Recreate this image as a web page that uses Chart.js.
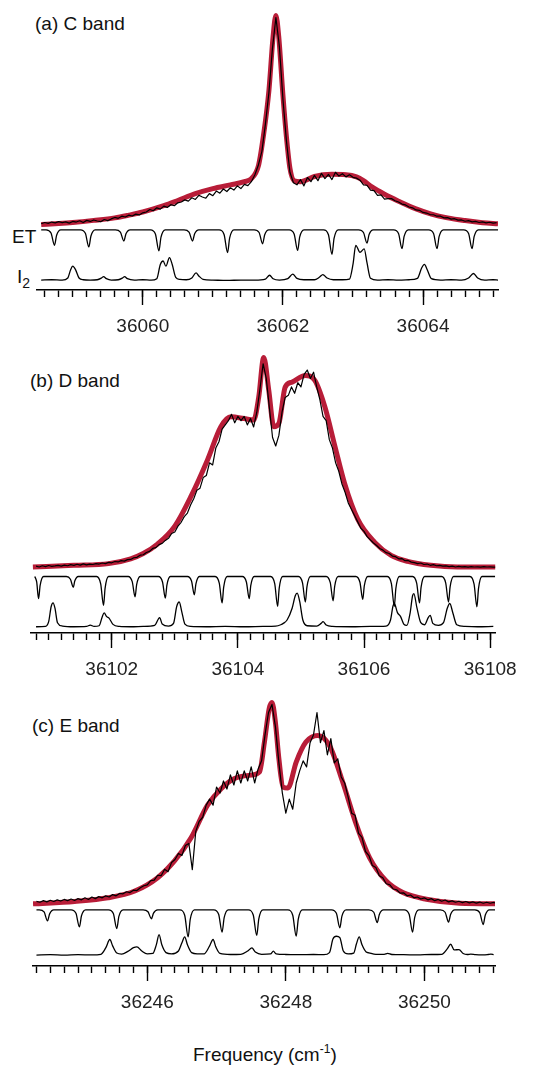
<!DOCTYPE html>
<html>
<head>
<meta charset="utf-8">
<script src="https://cdn.jsdelivr.net/npm/chart.js@4.4.1/dist/chart.umd.min.js"></script>
<style>
   body { margin: 0; background: #fff; }
   #wrap { position: relative; width: 537px; height: 1066px; overflow: hidden;
           font-family: "Liberation Sans", Arial, sans-serif; color: #111; }
   #wrap canvas { position: absolute; left: 0; }
   .lbl { position: absolute; font-size: 19px; line-height: 19px; white-space: nowrap; }
   .lbl sub { font-size: 14px; vertical-align: -5px; line-height: 0; }
   .lbl sup { font-size: 12px; vertical-align: 8px; line-height: 0; }
</style>
</head>
<body>
<div id="wrap">
   <div class="lbl" style="left:35px; top:14px;">(a) C band</div>
   <div class="lbl" style="left:12px; top:227px;">ET</div>
   <div class="lbl" style="left:17px; top:267px;">I<sub>2</sub></div>
   <div class="lbl" style="left:30px; top:371px;">(b) D band</div>
   <div class="lbl" style="left:32px; top:716px;">(c) E band</div>
   <div class="lbl" style="left:193px; top:1045px;">Frequency (cm<sup>-1</sup>)</div>
</div>
<script>
// -----------------------------------------------------------------------------
// Values. Wavenumbers in cm-1, intensities normalised:
//   spectrum 0 = baseline, 1 = top of the narrow peak
//   ET (etalon) 1 = flat transmission, 0 = deepest dip
//   I2 0 = baseline, 1 = tallest line
// Observed traces are sampled every 0.05 cm-1 from the given start.
// -----------------------------------------------------------------------------

// (a) C band
var cRange = [36058.49, 36065.07];
var cObsStart = 36058.55, cObsStep = 0.05;
var cObs = [
   0.004, 0.010, 0.006, 0.012, 0.008, 0.014, 0.009, 0.013, 0.007, 0.015,
   0.012, 0.018, 0.010, 0.020, 0.015, 0.022, 0.017, 0.014, 0.024, 0.019,
   0.027, 0.034, 0.030, 0.040, 0.036, 0.045, 0.041, 0.050, 0.046, 0.056,
   0.060, 0.072, 0.066, 0.080, 0.074, 0.088, 0.082, 0.095, 0.090, 0.104,
   0.108, 0.118, 0.112, 0.128, 0.120, 0.140, 0.132, 0.126, 0.148, 0.138,
   0.160, 0.150, 0.170, 0.158, 0.176, 0.165, 0.185, 0.172, 0.192, 0.186,
   0.205, 0.238, 0.285, 0.350, 0.480, 0.630, 0.840, 0.990, 0.850, 0.600,
   0.400, 0.250, 0.200, 0.190, 0.215, 0.185, 0.225, 0.205, 0.235, 0.210,
   0.245, 0.220, 0.240, 0.215, 0.250, 0.232, 0.243, 0.228, 0.238, 0.226,
   0.222, 0.212, 0.190, 0.188, 0.165, 0.162, 0.140, 0.142, 0.122, 0.124,
   0.124, 0.114, 0.108, 0.098, 0.094, 0.084, 0.080, 0.070, 0.068, 0.058,
   0.055, 0.048, 0.047, 0.040, 0.040, 0.032, 0.033, 0.026, 0.028, 0.021,
   0.022, 0.016, 0.019, 0.013, 0.015, 0.010, 0.013, 0.008, 0.011, 0.007,
   0.009
];
var cFit = [
   [36058.55, 0.000], [36058.80, 0.005], [36059.00, 0.010], [36059.30, 0.020],
   [36059.60, 0.032], [36059.80, 0.045], [36060.00, 0.060], [36060.30, 0.090],
   [36060.50, 0.115], [36060.75, 0.148], [36061.00, 0.172], [36061.25, 0.190],
   [36061.45, 0.205], [36061.55, 0.220], [36061.65, 0.280], [36061.72, 0.420],
   [36061.80, 0.640], [36061.86, 0.900], [36061.90, 1.000], [36061.94, 0.900],
   [36062.00, 0.620], [36062.05, 0.420], [36062.10, 0.270], [36062.16, 0.210],
   [36062.25, 0.205], [36062.45, 0.230], [36062.70, 0.240], [36062.90, 0.238],
   [36063.05, 0.228], [36063.15, 0.210], [36063.27, 0.180], [36063.45, 0.145],
   [36063.65, 0.112], [36063.90, 0.075], [36064.12, 0.050], [36064.35, 0.032],
   [36064.60, 0.019], [36064.85, 0.009], [36065.07, 0.004]
];
var cET = [
   [36058.55, 1], [36058.62, 1], [36058.69, 0.87], [36058.74, 0.37], [36058.77, 0.78], [36058.83, 1],
   [36059.11, 1], [36059.18, 0.86], [36059.23, 0.30], [36059.26, 0.75], [36059.32, 1],
   [36059.61, 1], [36059.68, 0.91], [36059.73, 0.54], [36059.76, 0.84], [36059.82, 1],
   [36060.11, 1], [36060.18, 0.83], [36060.23, 0.14], [36060.26, 0.70], [36060.32, 1],
   [36060.59, 1], [36060.66, 0.91], [36060.71, 0.54], [36060.74, 0.84], [36060.80, 1],
   [36061.09, 1], [36061.16, 0.81], [36061.21, 0.07], [36061.24, 0.67], [36061.30, 1],
   [36061.59, 1], [36061.66, 0.89], [36061.71, 0.43], [36061.74, 0.80], [36061.80, 1],
   [36062.09, 1], [36062.16, 0.83], [36062.21, 0.16], [36062.24, 0.71], [36062.30, 1],
   [36062.58, 1], [36062.65, 0.80], [36062.70, 0.00], [36062.73, 0.65], [36062.79, 1],
   [36063.08, 1], [36063.15, 0.89], [36063.20, 0.46], [36063.23, 0.81], [36063.29, 1],
   [36063.58, 1], [36063.65, 0.85], [36063.70, 0.23], [36063.73, 0.73], [36063.79, 1],
   [36064.08, 1], [36064.15, 0.85], [36064.20, 0.23], [36064.23, 0.73], [36064.29, 1],
   [36064.58, 1], [36064.65, 0.85], [36064.70, 0.23], [36064.73, 0.73], [36064.79, 1],
   [36065.07, 1]
];
var cI2 = [
   [36058.55, 0.00], [36058.70, 0.01], [36058.85, 0.00], [36058.93, 0.06], [36058.97, 0.30],
   [36059.00, 0.40], [36059.04, 0.30], [36059.09, 0.06], [36059.15, 0.01], [36059.25, 0.00],
   [36059.35, 0.01], [36059.41, 0.06], [36059.44, 0.10], [36059.48, 0.04], [36059.55, 0.00],
   [36059.65, 0.01], [36059.71, 0.06], [36059.74, 0.10], [36059.78, 0.04], [36059.88, 0.00],
   [36060.00, 0.01], [36060.12, 0.00], [36060.20, 0.04], [36060.25, 0.45], [36060.29, 0.55],
   [36060.33, 0.40], [36060.38, 0.65], [36060.42, 0.45], [36060.47, 0.08], [36060.53, 0.02],
   [36060.62, 0.01], [36060.70, 0.06], [36060.76, 0.21], [36060.80, 0.12], [36060.86, 0.02],
   [36061.00, 0.00], [36061.20, -0.01], [36061.40, 0.00], [36061.60, 0.00], [36061.75, 0.03],
   [36061.81, 0.14], [36061.86, 0.04], [36061.95, 0.00], [36062.07, 0.04], [36062.14, 0.17],
   [36062.20, 0.05], [36062.30, 0.01], [36062.45, 0.01], [36062.52, 0.08], [36062.57, 0.16],
   [36062.63, 0.06], [36062.72, 0.01], [36062.85, 0.01], [36062.95, 0.03], [36063.00, 0.45],
   [36063.04, 1.00], [36063.10, 0.80], [36063.16, 0.90], [36063.20, 0.50], [36063.25, 0.05],
   [36063.35, 0.00], [36063.50, 0.01], [36063.65, 0.00], [36063.80, 0.01], [36063.92, 0.05],
   [36063.98, 0.35], [36064.02, 0.45], [36064.06, 0.30], [36064.12, 0.04], [36064.25, 0.00],
   [36064.40, 0.01], [36064.55, 0.00], [36064.65, 0.06], [36064.72, 0.19], [36064.78, 0.06],
   [36064.88, 0.00], [36065.00, 0.01], [36065.07, 0.00]
];

// (b) D band
var dRange = [36100.72, 36108.08];
var dObsStart = 36100.80, dObsStep = 0.05;
var dObs = [
   0.010, 0.006, 0.012, 0.008, 0.013, 0.009, 0.011, 0.014, 0.010, 0.015,
   0.012, 0.017, 0.014, 0.019, 0.015, 0.021, 0.016, 0.020, 0.018, 0.022,
   0.020, 0.025, 0.022, 0.028, 0.026, 0.032, 0.030, 0.036, 0.034, 0.041,
   0.042, 0.050, 0.052, 0.062, 0.064, 0.075, 0.080, 0.094, 0.098, 0.112,
   0.118, 0.132, 0.142, 0.165, 0.172, 0.200, 0.218, 0.245, 0.262, 0.300,
   0.330, 0.370, 0.380, 0.430, 0.440, 0.500, 0.490, 0.570, 0.600, 0.660,
   0.680, 0.700, 0.730, 0.690, 0.720, 0.700, 0.720, 0.680, 0.710, 0.670,
   0.740, 0.850, 0.970, 0.900, 0.760, 0.620, 0.580, 0.630, 0.740, 0.810,
   0.820, 0.860, 0.830, 0.880, 0.860, 0.920, 0.940, 0.900, 0.930, 0.860,
   0.800, 0.720, 0.700, 0.610, 0.570, 0.500, 0.460, 0.400, 0.360, 0.310,
   0.280, 0.250, 0.220, 0.190, 0.175, 0.150, 0.135, 0.120, 0.108, 0.094,
   0.086, 0.074, 0.070, 0.058, 0.055, 0.045, 0.046, 0.036, 0.037, 0.029,
   0.027, 0.022, 0.025, 0.018, 0.020, 0.014, 0.017, 0.012, 0.014, 0.010,
   0.011, 0.008, 0.010, 0.006, 0.009, 0.007, 0.008, 0.005, 0.008, 0.006,
   0.007, 0.005, 0.008, 0.006, 0.007, 0.005, 0.006
];
var dFit = [
   [36100.75, 0.006], [36101.40, 0.014], [36101.95, 0.022], [36102.30, 0.045],
   [36102.50, 0.070], [36102.73, 0.116], [36103.00, 0.200], [36103.26, 0.343],
   [36103.52, 0.515], [36103.73, 0.671], [36103.89, 0.718], [36104.10, 0.710],
   [36104.25, 0.703], [36104.33, 0.810], [36104.41, 1.000], [36104.49, 0.844],
   [36104.57, 0.671], [36104.65, 0.687], [36104.75, 0.859], [36104.86, 0.883],
   [36105.07, 0.914], [36105.22, 0.891], [36105.38, 0.765], [36105.54, 0.577],
   [36105.69, 0.405], [36105.90, 0.233], [36106.17, 0.123], [36106.43, 0.061],
   [36106.69, 0.033], [36107.06, 0.014], [36107.48, 0.006], [36108.10, 0.006]
];
var dET = [
   [36100.78, 1], [36100.81, 0.82], [36100.84, 0.27], [36100.865, 0.71], [36100.92, 1],
   [36101.28, 1], [36101.345, 0.91], [36101.39, 0.65], [36101.415, 0.86], [36101.47, 1],
   [36101.76, 1], [36101.825, 0.76], [36101.87, 0.05], [36101.895, 0.62], [36101.95, 1],
   [36102.26, 1], [36102.325, 0.83], [36102.37, 0.33], [36102.395, 0.73], [36102.45, 1],
   [36102.74, 1], [36102.805, 0.82], [36102.85, 0.29], [36102.875, 0.72], [36102.93, 1],
   [36103.20, 1], [36103.265, 0.85], [36103.31, 0.40], [36103.335, 0.76], [36103.39, 1],
   [36103.64, 1], [36103.705, 0.78], [36103.75, 0.13], [36103.775, 0.65], [36103.83, 1],
   [36104.07, 1], [36104.135, 0.82], [36104.18, 0.27], [36104.205, 0.71], [36104.26, 1],
   [36104.52, 1], [36104.585, 0.76], [36104.63, 0.02], [36104.655, 0.61], [36104.71, 1],
   [36104.96, 1], [36105.025, 0.79], [36105.07, 0.16], [36105.095, 0.66], [36105.15, 1],
   [36105.40, 1], [36105.465, 0.80], [36105.51, 0.20], [36105.535, 0.68], [36105.59, 1],
   [36105.87, 1], [36105.935, 0.81], [36105.98, 0.25], [36106.005, 0.70], [36106.06, 1],
   [36106.37, 1], [36106.435, 0.76], [36106.48, 0.02], [36106.505, 0.61], [36106.56, 1],
   [36106.77, 1], [36106.835, 0.78], [36106.88, 0.13], [36106.905, 0.65], [36106.96, 1],
   [36107.23, 1], [36107.295, 0.79], [36107.34, 0.16], [36107.365, 0.66], [36107.42, 1],
   [36107.68, 1], [36107.745, 0.75], [36107.79, 0.00], [36107.815, 0.60], [36107.87, 1],
   [36108.08, 1]
];
var dI2 = [
   [36100.80, 0.00], [36100.95, 0.01], [36101.00, 0.15], [36101.04, 0.60], [36101.07, 0.71],
   [36101.10, 0.55], [36101.14, 0.12], [36101.22, 0.02], [36101.40, 0.00], [36101.60, 0.01],
   [36101.66, 0.05], [36101.72, 0.01], [36101.80, 0.03], [36101.85, 0.30], [36101.88, 0.41],
   [36101.92, 0.30], [36101.96, 0.25], [36102.02, 0.07], [36102.12, 0.01], [36102.30, 0.00],
   [36102.50, 0.01], [36102.68, 0.04], [36102.76, 0.27], [36102.80, 0.08], [36102.90, 0.02],
   [36102.98, 0.10], [36103.03, 0.60], [36103.07, 0.735], [36103.11, 0.45], [36103.16, 0.08],
   [36103.25, 0.01], [36103.50, 0.00], [36103.80, 0.01], [36104.10, 0.00], [36104.40, 0.01],
   [36104.60, 0.02], [36104.68, 0.06], [36104.72, 0.10], [36104.78, 0.20], [36104.86, 0.55],
   [36104.91, 0.92], [36104.94, 1.00], [36104.98, 0.75], [36105.03, 0.20], [36105.10, 0.03],
   [36105.25, 0.02], [36105.32, 0.10], [36105.35, 0.15], [36105.40, 0.05], [36105.50, 0.01],
   [36105.80, 0.00], [36106.10, 0.01], [36106.35, 0.02], [36106.42, 0.20], [36106.46, 0.62],
   [36106.48, 0.69], [36106.53, 0.42], [36106.58, 0.30], [36106.63, 0.08], [36106.68, 0.04],
   [36106.73, 0.40], [36106.77, 0.92], [36106.79, 0.98], [36106.84, 0.55], [36106.90, 0.12],
   [36106.96, 0.06], [36107.02, 0.28], [36107.05, 0.34], [36107.09, 0.10], [36107.18, 0.04],
   [36107.26, 0.12], [36107.32, 0.55], [36107.36, 0.69], [36107.41, 0.40], [36107.47, 0.06],
   [36107.60, 0.01], [36107.80, 0.00], [36108.05, 0.01]
];

// (c) E band
var eRange = [36244.35, 36251.02];
var eObsStart = 36244.40, eObsStep = 0.05;
var eObs = [
   0.012, 0.008, 0.016, 0.010, 0.018, 0.012, 0.020, 0.014, 0.022, 0.016,
   0.024, 0.017, 0.026, 0.020, 0.030, 0.022, 0.034, 0.026, 0.036, 0.030,
   0.040, 0.034, 0.046, 0.040, 0.052, 0.050, 0.060, 0.056, 0.068, 0.066,
   0.080, 0.090, 0.094, 0.115, 0.118, 0.142, 0.140, 0.172, 0.160, 0.205,
   0.220, 0.250, 0.240, 0.290, 0.300, 0.170, 0.360, 0.410, 0.430, 0.490,
   0.520, 0.490, 0.580, 0.550, 0.610, 0.570, 0.640, 0.590, 0.660, 0.600,
   0.660, 0.610, 0.680, 0.600, 0.670, 0.710, 0.840, 0.950, 0.990, 0.880,
   0.700, 0.550, 0.450, 0.520, 0.470, 0.600, 0.660, 0.710, 0.680, 0.800,
   0.840, 0.950, 0.800, 0.860, 0.740, 0.820, 0.700, 0.720, 0.630, 0.600,
   0.530, 0.450, 0.440, 0.350, 0.330, 0.260, 0.240, 0.190, 0.180, 0.140,
   0.130, 0.100, 0.095, 0.074, 0.070, 0.053, 0.055, 0.040, 0.044, 0.030,
   0.034, 0.024, 0.030, 0.020, 0.026, 0.016, 0.022, 0.013, 0.019, 0.010,
   0.015, 0.008, 0.013, 0.006, 0.012, 0.005, 0.010, 0.004, 0.009, 0.003,
   0.008, 0.003, 0.007, 0.002, 0.006
];
var eFit = [
   [36244.35, 0.000], [36244.95, 0.012], [36245.43, 0.030], [36245.82, 0.064],
   [36246.15, 0.130], [36246.39, 0.212], [36246.63, 0.327], [36246.87, 0.490],
   [36247.07, 0.573], [36247.26, 0.622], [36247.50, 0.639], [36247.62, 0.655],
   [36247.69, 0.800], [36247.76, 0.970], [36247.80, 1.000], [36247.85, 0.900],
   [36247.90, 0.720], [36247.96, 0.580], [36248.03, 0.575], [36248.15, 0.704],
   [36248.29, 0.803], [36248.46, 0.836], [36248.63, 0.786], [36248.82, 0.606],
   [36249.02, 0.392], [36249.21, 0.228], [36249.45, 0.113], [36249.69, 0.056],
   [36250.03, 0.023], [36250.51, 0.003], [36251.10, 0.000]
];
var eET = [
   [36244.40, 1], [36244.44, 1], [36244.51, 0.92], [36244.56, 0.59], [36244.59, 0.85], [36244.65, 1],
   [36244.90, 1], [36244.97, 0.87], [36245.02, 0.37], [36245.05, 0.78], [36245.11, 1],
   [36245.44, 1], [36245.51, 0.86], [36245.56, 0.31], [36245.59, 0.76], [36245.65, 1],
   [36245.94, 1], [36246.01, 0.93], [36246.06, 0.67], [36246.09, 0.88], [36246.15, 1],
   [36246.47, 1], [36246.54, 0.80], [36246.59, 0.00], [36246.62, 0.65], [36246.68, 1],
   [36246.96, 1], [36247.03, 0.84], [36247.08, 0.18], [36247.11, 0.71], [36247.17, 1],
   [36247.46, 1], [36247.53, 0.81], [36247.58, 0.06], [36247.61, 0.67], [36247.67, 1],
   [36248.03, 1], [36248.10, 0.80], [36248.15, 0.03], [36248.18, 0.66], [36248.24, 1],
   [36248.66, 1], [36248.73, 0.87], [36248.78, 0.34], [36248.81, 0.77], [36248.87, 1],
   [36249.20, 1], [36249.27, 0.91], [36249.32, 0.53], [36249.35, 0.83], [36249.41, 1],
   [36249.71, 1], [36249.78, 0.84], [36249.83, 0.18], [36249.86, 0.71], [36249.92, 1],
   [36250.23, 1], [36250.30, 0.91], [36250.35, 0.55], [36250.38, 0.84], [36250.44, 1],
   [36250.73, 1], [36250.80, 0.89], [36250.85, 0.46], [36250.88, 0.81], [36250.94, 1],
   [36251.02, 1]
];
var eI2 = [
   [36244.40, 0.00], [36244.60, 0.02], [36244.80, 0.00], [36245.00, 0.02], [36245.20, 0.01],
   [36245.33, 0.04], [36245.40, 0.35], [36245.46, 0.76], [36245.50, 0.45], [36245.56, 0.10],
   [36245.63, 0.05], [36245.72, 0.18], [36245.80, 0.36], [36245.85, 0.40], [36245.92, 0.20],
   [36246.00, 0.06], [36246.08, 0.08], [36246.13, 0.50], [36246.17, 1.00], [36246.21, 0.50],
   [36246.27, 0.12], [36246.35, 0.06], [36246.45, 0.20], [36246.50, 0.60], [36246.54, 0.89],
   [36246.58, 0.50], [36246.64, 0.12], [36246.72, 0.06], [36246.82, 0.06], [36246.90, 0.45],
   [36246.95, 0.76], [36246.99, 0.40], [36247.05, 0.08], [36247.20, 0.03], [36247.35, 0.04],
   [36247.45, 0.20], [36247.51, 0.35], [36247.56, 0.15], [36247.65, 0.04], [36247.78, 0.06],
   [36247.82, 0.19], [36247.86, 0.06], [36248.00, 0.03], [36248.20, 0.02], [36248.40, 0.03],
   [36248.55, 0.02], [36248.63, 0.12], [36248.68, 0.78], [36248.73, 0.92], [36248.78, 0.85],
   [36248.83, 0.20], [36248.90, 0.06], [36248.98, 0.10], [36249.02, 0.55], [36249.06, 0.89],
   [36249.10, 0.50], [36249.16, 0.15], [36249.20, 0.11], [36249.30, 0.04], [36249.42, 0.04],
   [36249.47, 0.08], [36249.53, 0.03], [36249.70, 0.02], [36249.90, 0.01], [36250.10, 0.03],
   [36250.25, 0.04], [36250.33, 0.30], [36250.38, 0.53], [36250.43, 0.25], [36250.50, 0.27],
   [36250.56, 0.08], [36250.62, 0.03], [36250.67, 0.05], [36250.74, 0.02], [36250.85, 0.01],
   [36250.92, 0.03], [36250.96, 0.05], [36251.00, 0.02]
];

// -----------------------------------------------------------------------------
// page layout (pixels): each band gives [pixel of value 1, pixel of value 0]
// -----------------------------------------------------------------------------
var FONT = '"Liberation Sans", Arial, sans-serif';
var RED = '#b81d38';

var panels = [
   { obs: cObs, obsStart: cObsStart, obsStep: cObsStep, fit: cFit, et: cET, i2: cI2, range: cRange,
     top: 0,   axis: 290, left: 37, right: 498,
     spec: [13, 224],   etBand: [229.3, 254],   i2Band: [245, 280] },
   { obs: dObs, obsStart: dObsStart, obsStep: dObsStep, fit: dFit, et: dET, i2: dI2, range: dRange,
     top: 345, axis: 633, left: 31, right: 498,
     spec: [355, 567.7], etBand: [576, 606.7],  i2Band: [592.7, 626.7] },
   { obs: eObs, obsStart: eObsStart, obsStep: eObsStep, fit: eFit, et: eET, i2: eI2, range: eRange,
     top: 690, axis: 966, left: 33, right: 495,
     spec: [700, 903.3], etBand: [909.3, 936.7], i2Band: [934.3, 955] }
];

Chart.defaults.font.family = FONT;

// axis min/max so that value 1 lands on p1 and value 0 on p0
function bandScale(top, bottom, p1, p0) {
   var s = p0 - p1;                 // pixels per unit
   return { min: -(bottom - p0) / s, max: 1 + (p1 - top) / s };
}

function isMajor(v) {
   return Math.abs(v / 2 - Math.round(v / 2)) < 1e-6;
}

function toPoints(pairs) {
   return pairs.map(function(p) { return { x: p[0], y: p[1] }; });
}

function makePanel(p) {
   var canvas = document.createElement('canvas');
   canvas.width = 537;
   canvas.height = p.axis - p.top + 50;
   canvas.style.top = p.top + 'px';
   document.getElementById('wrap').appendChild(canvas);

   var obs = p.obs.map(function(v, i) { return { x: p.obsStart + i * p.obsStep, y: v }; });
   var spec = bandScale(p.top, p.axis, p.spec[0], p.spec[1]);
   var et   = bandScale(p.top, p.axis, p.etBand[0], p.etBand[1]);
   var i2   = bandScale(p.top, p.axis, p.i2Band[0], p.i2Band[1]);

   var chart = new Chart(canvas, {
      type: 'line',
      data: {
         datasets: [
            { data: obs, xAxisID: 'x', yAxisID: 'ySpec', borderColor: '#000', borderWidth: 1.2, order: 0 },
            { data: toPoints(p.fit), xAxisID: 'x', yAxisID: 'ySpec', borderColor: RED, borderWidth: 5,
              cubicInterpolationMode: 'monotone', order: 1 },
            { data: toPoints(p.et), xAxisID: 'x', yAxisID: 'yET', borderColor: '#000', borderWidth: 1.3,
              cubicInterpolationMode: 'monotone', order: 0 },
            { data: toPoints(p.i2), xAxisID: 'x', yAxisID: 'yI2', borderColor: '#000', borderWidth: 1.3,
              cubicInterpolationMode: 'monotone', order: 0 }
         ]
      },
      options: {
         responsive: false,
         maintainAspectRatio: false,
         animation: false,
         events: [],
         layout: { padding: { left: p.left, right: 537 - p.right, top: 0, bottom: 0 } },
         elements: { point: { radius: 0 }, line: { tension: 0, borderJoinStyle: 'round' } },
         plugins: { legend: { display: false }, tooltip: { enabled: false } },
         scales: {
            // axis line, minor ticks every 0.2 and the labels
            x: {
               type: 'linear',
               position: 'bottom',
               min: p.range[0],
               max: p.range[1],
               border: { display: true, color: '#000', width: 1.5 },
               grid: {
                  drawOnChartArea: false,
                  drawTicks: true,
                  tickLength: 7,
                  tickWidth: 1.4,
                  tickColor: '#000'
               },
               ticks: {
                  stepSize: 0.2,
                  autoSkip: false,
                  includeBounds: false,
                  maxRotation: 0,
                  padding: 20,
                  color: '#222',
                  font: { size: 19, lineHeight: 1 },
                  callback: function(v) { return isMajor(v) ? String(Math.round(v)) : ''; }
               }
            },
            // long ticks every 2 cm-1, hung on the bottom of the plot area
            xMajor: {
               type: 'linear',
               display: true,
               position: { ySpec: spec.min },
               min: p.range[0],
               max: p.range[1],
               border: { display: false },
               grid: {
                  drawOnChartArea: false,
                  drawTicks: true,
                  tickLength: 15,
                  tickWidth: 1.4,
                  tickColor: '#000'
               },
               ticks: { display: false, stepSize: 2, autoSkip: false, includeBounds: false }
            },
            ySpec: { display: false, min: spec.min, max: spec.max },
            yET:   { display: false, min: et.min,   max: et.max },
            yI2:   { display: false, min: i2.min,   max: i2.max }
         }
      }
   });

   // make the plot area end exactly on the axis row of the figure
   var axisH = canvas.height - chart.chartArea.bottom;
   var wantH = Math.round(p.axis - p.top + axisH);
   if (wantH !== canvas.height) {
      chart.resize(537, wantH);
   }
   return chart;
}

var charts = panels.map(makePanel);
</script>
</body>
</html>
